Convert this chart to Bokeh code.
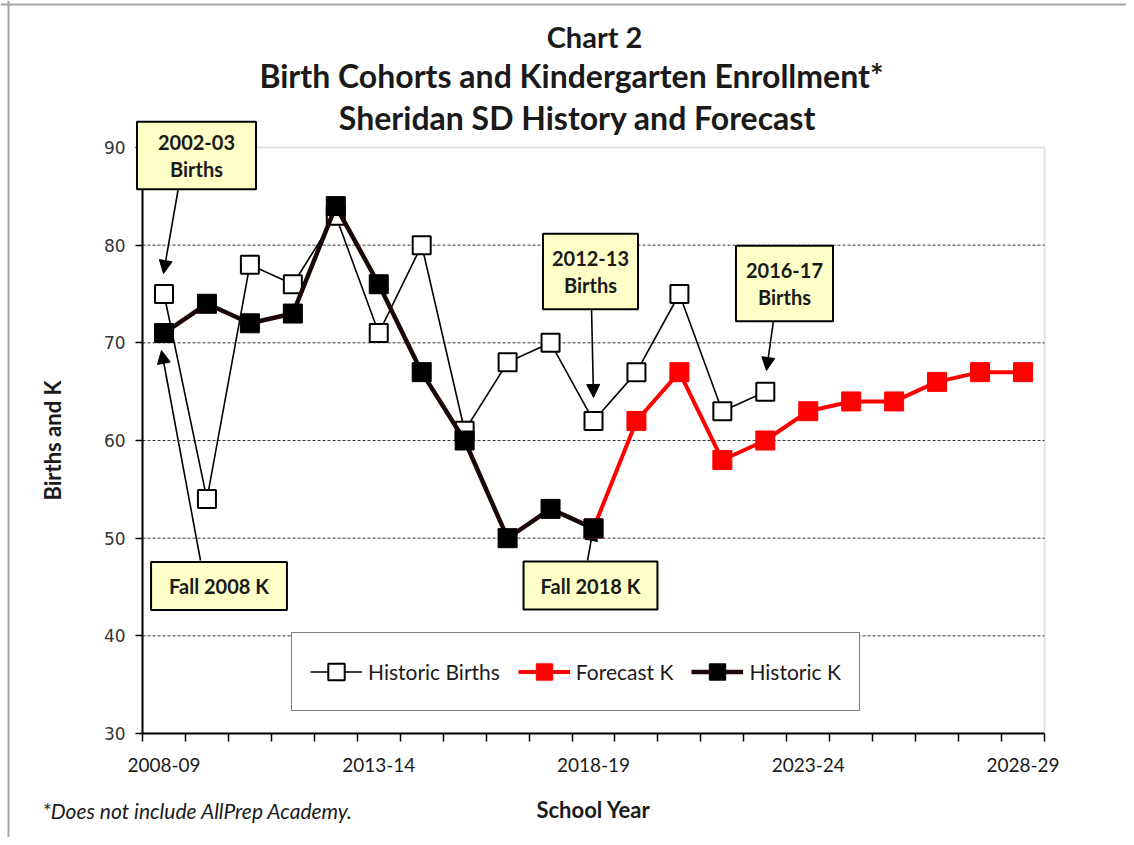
from bokeh.plotting import figure
from bokeh.models import (FixedTicker, Label, Arrow, NormalHead, Legend, LegendItem,
                          Range1d, BoxAnnotation, Span)
from bokeh.embed import file_html
from bokeh.resources import INLINE

# ---------------- data ----------------
school_years = ["2008-09", "2009-10", "2010-11", "2011-12", "2012-13", "2013-14",
                "2014-15", "2015-16", "2016-17", "2017-18", "2018-19", "2019-20",
                "2020-21", "2021-22", "2022-23", "2023-24", "2024-25", "2025-26",
                "2026-27", "2027-28", "2028-29"]
labelled_years = ["2008-09", "2013-14", "2018-19", "2023-24", "2028-29"]

historic_births = [75, 54, 78, 76, 83, 71, 80, 61, 68, 70, 62, 67, 75, 63, 65]
historic_k = [71, 74, 72, 73, 84, 76, 67, 60, 50, 53, 51]
forecast_k = [51, 62, 67, 58, 60, 63, 64, 64, 66, 67, 67]
forecast_start = school_years.index("2018-19")

y_ticks = [30, 40, 50, 60, 70, 80, 90]

x_births = list(range(len(historic_births)))
x_hist = list(range(len(historic_k)))
x_fore = list(range(forecast_start, forecast_start + len(forecast_k)))

# ---------------- layout geometry (pixels) ----------------
W, H = 1126, 837
X0_PX, X_STEP = 163.5, 42.95      # pixel of first category, pixels per category
YTOP_PX, Y_STEP = 147.0, 9.767    # pixel of y=90, pixels per unit
Y_MIN, Y_MAX = y_ticks[0], y_ticks[-1]
X_LO, X_HI = -0.5, len(school_years) - 0.5

def xd(px):
    return (px - X0_PX) / X_STEP

def yd(py):
    return Y_MAX - (py - YTOP_PX) / Y_STEP

FONT = "Lato"
TXT = "#1a1a1a"

p = figure(width=W, height=H, output_backend="svg", toolbar_location=None, title=None,
           x_range=Range1d(xd(0), xd(W)), y_range=Range1d(yd(H), yd(0)),
           min_border=0, min_border_left=0, min_border_right=0,
           min_border_top=0, min_border_bottom=0)
p.outline_line_color = None
p.background_fill_color = "white"
p.border_fill_color = "white"
p.xgrid.grid_line_color = None
p.ygrid.grid_line_color = None

# outer document border (left and top)
p.add_layout(Span(location=xd(8), dimension="height", line_color="#a5a5a5", line_width=2))
p.add_layout(Span(location=yd(4), dimension="width", line_color="#a5a5a5", line_width=2))

# plot area border
p.add_layout(BoxAnnotation(left=X_LO, right=X_HI, bottom=Y_MIN, top=Y_MAX,
                           fill_color=None, line_color="#9a9a9a", line_width=2,
                           level="underlay"))

# dashed gridlines
grid_vals = y_ticks[1:-1]
p.segment(x0=[X_LO] * len(grid_vals), y0=grid_vals, x1=[X_HI] * len(grid_vals),
          y1=grid_vals, line_color="#333333", line_dash="3 2", line_width=1)

# x axis
p.xaxis.fixed_location = Y_MIN
p.xaxis.bounds = (X_LO, X_HI)
p.xaxis.ticker = FixedTicker(ticks=[school_years.index(y) for y in labelled_years],
                             minor_ticks=[i - 0.5 for i in range(len(school_years) + 1)])
p.xaxis.major_label_overrides = {school_years.index(y): y for y in labelled_years}
p.xaxis.major_tick_out = 0
p.xaxis.major_tick_in = 0
p.xaxis.minor_tick_out = 8
p.xaxis.minor_tick_in = 0
p.xaxis.minor_tick_line_color = "black"
p.xaxis.minor_tick_line_width = 1.5
p.xaxis.axis_line_color = "black"
p.xaxis.axis_line_width = 2
p.xaxis.major_label_text_font = FONT
p.xaxis.major_label_text_font_size = "19px"
p.xaxis.major_label_text_color = TXT
p.xaxis.major_label_standoff = 16
p.xaxis.axis_label = "School Year"
p.xaxis.axis_label_text_font = FONT
p.xaxis.axis_label_text_font_size = "22px"
p.xaxis.axis_label_text_font_style = "bold"
p.xaxis.axis_label_text_color = TXT
p.xaxis.axis_label_standoff = 21

# y axis
p.yaxis.fixed_location = X_LO
p.yaxis.bounds = (Y_MIN, Y_MAX)
p.yaxis.ticker = FixedTicker(ticks=y_ticks)
p.yaxis.minor_tick_line_color = None
p.yaxis.major_tick_out = 7
p.yaxis.major_tick_in = 0
p.yaxis.major_tick_line_width = 1.5
p.yaxis.axis_line_color = "black"
p.yaxis.axis_line_width = 2
p.yaxis.major_label_text_font = "DejaVu Sans"
p.yaxis.major_label_text_font_size = "17px"
p.yaxis.major_label_text_color = "#333333"
p.yaxis.major_label_standoff = 10
p.yaxis.axis_label = "Births and K"
p.yaxis.axis_label_text_font = FONT
p.yaxis.axis_label_text_font_size = "22px"
p.yaxis.axis_label_text_font_style = "bold"
p.yaxis.axis_label_text_color = TXT
p.yaxis.axis_label_standoff = 35

# ---------------- series ----------------
b_line = p.line(x_births, historic_births, line_color="black", line_width=1.6)
b_pts = p.scatter(x_births, historic_births, marker="square", size=18,
                  fill_color="white", line_color="black", line_width=2)
f_line = p.line(x_fore, forecast_k, line_color="#ff0000", line_width=4)
f_pts = p.scatter(x_fore, forecast_k, marker="square", size=19,
                  fill_color="#ff0000", line_color="#ff0000")
k_line = p.line(x_hist, historic_k, line_color="#1c0606", line_width=4.5)
k_pts = p.scatter(x_hist, historic_k, marker="square", size=19,
                  fill_color="black", line_color="black")

legend = Legend(items=[
    LegendItem(label="Historic Births", renderers=[b_line, b_pts]),
    LegendItem(label="Forecast K", renderers=[f_line, f_pts]),
    LegendItem(label="Historic K", renderers=[k_line, k_pts]),
], orientation="horizontal", location=(291, H - 711))
legend.label_text_font = FONT
legend.label_text_font_size = "21px"
legend.label_text_color = TXT
legend.glyph_width = 52
legend.glyph_height = 41
legend.label_standoff = 6
legend.spacing = 18
legend.padding = 18
legend.margin = 0
legend.border_line_color = "black"
legend.border_line_width = 1.5
legend.background_fill_color = "white"
legend.background_fill_alpha = 1
p.add_layout(legend, "center")

# ---------------- titles & notes ----------------
def lab(px, py, text, size, style="bold", align="center"):
    p.add_layout(Label(x=xd(px), y=yd(py), text=text, text_font=FONT, text_font_size=size,
                       text_font_style=style, text_color=TXT, text_align=align,
                       text_baseline="middle"))

lab(594, 36, "Chart 2", "29px")
lab(571, 75, "Birth Cohorts and Kindergarten Enrollment*", "32px")
lab(577, 117, "Sheridan SD History and Forecast", "32px")
lab(42, 810, "*Does not include AllPrep Academy.", "21px", style="italic", align="left")

# ---------------- callouts ----------------
def callout(px, py, text, pad_x, pad_y):
    p.add_layout(Label(x=xd(px), y=yd(py), text=text, text_font=FONT, text_font_size="20px",
                       text_font_style="bold", text_color=TXT, text_align="center",
                       text_baseline="middle", text_line_height=1.15,
                       background_fill_color="#ffffc8", border_line_color="black",
                       border_line_width=2,
                       padding=dict(left=pad_x, right=pad_x, top=pad_y, bottom=pad_y)))

def arrow(px0, py0, px1, py1):
    p.add_layout(Arrow(x_start=xd(px0), y_start=yd(py0), x_end=xd(px1), y_end=yd(py1),
                       line_color="black", line_width=1.6, level="underlay",
                       end=NormalHead(size=13, fill_color="black", line_color="black")))

arrow(178, 187, 163, 273)
arrow(200, 560, 161, 350)
arrow(591, 307, 593, 397)
arrow(773, 320, 766, 370)
arrow(587, 560, 593, 527)

callout(196, 155, "2002-03\nBirths", 21, 8)
callout(218.5, 585.5, "Fall 2008 K", 18, 12)
callout(590, 271, "2012-13\nBirths", 9, 12)
callout(784, 283, "2016-17\nBirths", 10, 12)
callout(590, 585, "Fall 2018 K", 17, 12)

open("out.html", "w").write(file_html(p, INLINE))
